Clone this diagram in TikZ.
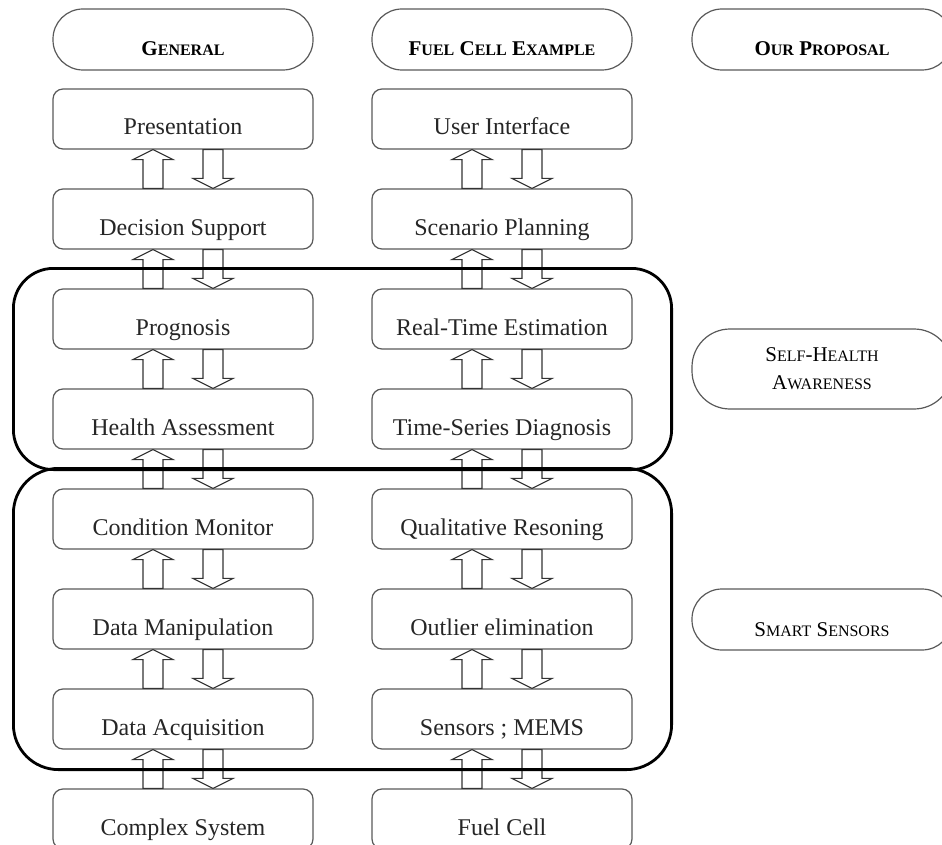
\documentclass[tikz,border=0pt]{standalone}
\usepackage{fontspec}
\setmainfont{Liberation Serif}
\usetikzlibrary{calc,fit}

% small capitals by hand
\newcommand{\smcp}[2]{#1{\fontsize{16}{19}\selectfont\MakeUppercase{#2}}}

\tikzset{
  box/.style={draw=black!65, line width=1.2pt, rounded corners=10pt, minimum width=260pt, minimum height=60pt, text height=32pt, text depth=0pt, text=black!85, font=\fontsize{24}{28}\selectfont},
  pillbase/.style={draw=black!65, line width=1.2pt, minimum width=260pt, font=\fontsize{21}{28}\selectfont},
  pill/.style={pillbase, rounded corners=30pt, minimum height=61pt, text height=33pt, text depth=0pt},
  title/.style={pill, font=\fontsize{21}{28}\selectfont\bfseries},
  blockarrow/.style={draw=black!80, line width=1.1pt, fill=white, line join=miter},
  frame/.style={draw=black, line width=2.8pt, rounded corners=40pt, inner xsep=39pt, inner ysep=20pt},
}

% #1 = upper layer, #2 = lower layer
\newcommand{\layerarrows}[2]{%
  \draw[blockarrow] ($(#2.north)+(-40,0)$) -- ($(#1.south)+(-40,10)$) -- ++(-10,0) -- ($(#1.south)+(-30,0)$)
    -- ($(#1.south)+(-10,10)$) -- ++(-10,0) -- ($(#2.north)+(-20,0)$) -- cycle;
  \draw[blockarrow] ($(#1.south)+(20,0)$) -- ($(#2.north)+(20,-10)$) -- ++(-10,0) -- ($(#2.north)+(30,0)$)
    -- ($(#2.north)+(50,-10)$) -- ++(-10,0) -- ($(#1.south)+(40,0)$) -- cycle;
}

\begin{document}
\begin{tikzpicture}[x=1pt, y=-1pt]
\useasboundingbox (0,0) rectangle (942,845);
\clip (0,0) rectangle (942,845);

% column titles
\node[title] (tgen) at (183,39.5) {\smcp{G}{eneral}};
\node[title] (tfc) at (502,39.5) {\smcp{F}{uel} \smcp{C}{ell} \smcp{E}{xample}};
\node[title] (tprop) at (822,39.5) {\smcp{O}{ur} \smcp{P}{roposal}};

% general layers
\node[box] (gen1) at (183,119) {Presentation};
\node[box] (gen2) at (183,219) {Decision Support};
\node[box] (gen3) at (183,319) {Prognosis};
\node[box] (gen4) at (183,419) {Health Assessment};
\node[box] (gen5) at (183,519) {Condition Monitor};
\node[box] (gen6) at (183,619) {Data Manipulation};
\node[box] (gen7) at (183,719) {Data Acquisition};
\node[box] (gen8) at (183,819) {Complex System};

% fuel cell layers
\node[box] (fc1) at (502,119) {User Interface};
\node[box] (fc2) at (502,219) {Scenario Planning};
\node[box] (fc3) at (502,319) {Real-Time Estimation};
\node[box] (fc4) at (502,419) {Time-Series Diagnosis};
\node[box] (fc5) at (502,519) {Qualitative Resoning};
\node[box] (fc6) at (502,619) {Outlier elimination};
\node[box] (fc7) at (502,719) {Sensors ; MEMS};
\node[box] (fc8) at (502,819) {Fuel Cell};

\foreach \a/\b in {1/2,2/3,3/4,4/5,5/6,6/7,7/8}{
  \layerarrows{gen\a}{gen\b}
  \layerarrows{fc\a}{fc\b}
}

% proposal groups
\node[frame, fit=(gen3)(fc4)] (health) {};
\node[frame, fit=(gen5)(fc7), rounded corners=45pt] (sensors) {};

\node[pillbase, minimum height=80pt, rounded corners=38pt, align=center] (shealth) at (822,369)
  {\smcp{S}{elf}-\smcp{H}{ealth}\\\smcp{A}{wareness}};
\node[pill] (ssens) at (822,619.5) {\smcp{S}{mart} \smcp{S}{ensors}};

\end{tikzpicture}
\end{document}
